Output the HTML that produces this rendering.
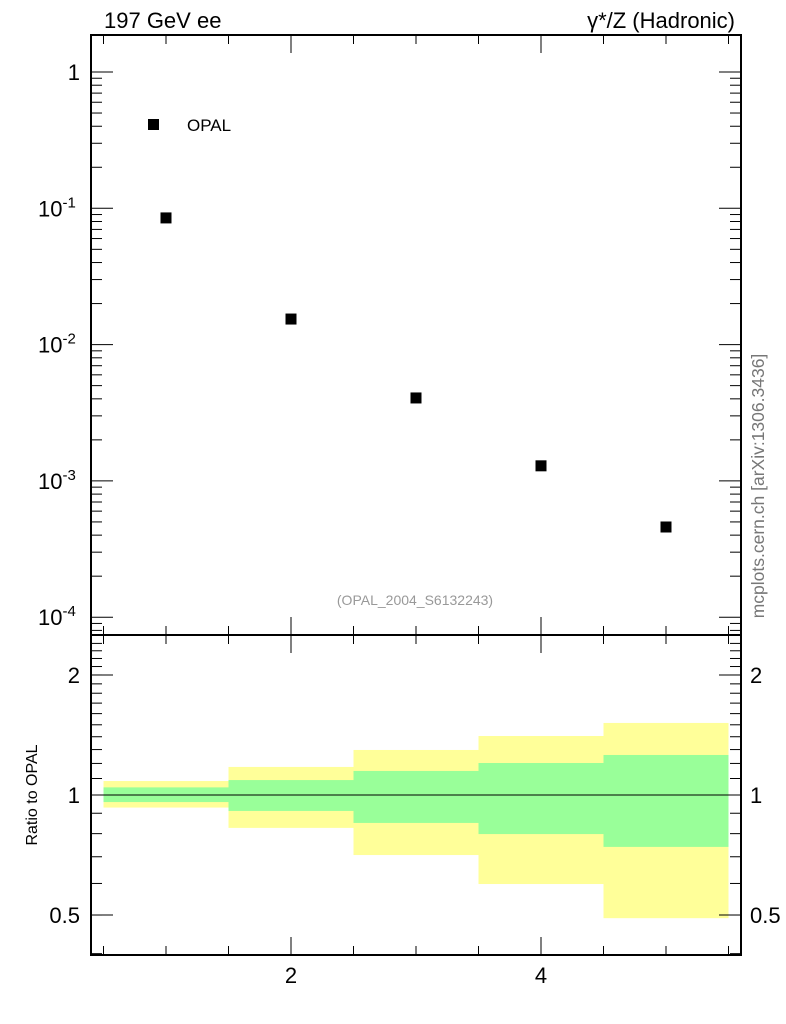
<!DOCTYPE html>
<html><head><meta charset="utf-8"><style>body{margin:0;background:#fff}svg{display:block}text{font-family:"Liberation Sans",sans-serif}</style></head>
<body>
<svg id="c" width="786" height="1024" xmlns="http://www.w3.org/2000/svg"></svg>
<script>
const xs=[1,2,3,4,5];
const vals=[0.085,0.0154,0.00406,0.00129,0.000459];
const binLo=[0.5,1.5,2.5,3.5,4.5];
const binHi=[1.5,2.5,3.5,4.5,5.5];
const yelHi=[1.084,1.176,1.297,1.406,1.516];
const yelLo=[0.93,0.827,0.707,0.598,0.491];
const grnHi=[1.045,1.09,1.149,1.203,1.26];
const grnLo=[0.96,0.912,0.851,0.798,0.741];
const xTicks=[2,4];
const mainTicks=["1","10","10","10","10"];
const mainExp=["","-1","-2","-3","-4"];
const ratioTicks=[0.5,1,2];

const L=91,R=741,T=35,M=635,B=955;
const X=v=>166+(v-1)*125;
const Y=v=>72-Math.log10(v)*136.3;
const YR=v=>795-Math.log10(v)*398.7;
const s=document.getElementById('c');
function el(t,a,txt){const e=document.createElementNS('http://www.w3.org/2000/svg',t);for(const k in a)e.setAttribute(k,a[k]);if(txt!==undefined)e.textContent=txt;s.appendChild(e);return e;}
function ln(x1,y1,x2,y2,w){return el('line',{x1,y1,x2,y2,stroke:'#000','stroke-width':w||1});}

for(let i=0;i<binLo.length;i++){
 const y=el('rect',{x:X(binLo[i]),y:YR(yelHi[i]),width:X(binHi[i])-X(binLo[i]),height:YR(yelLo[i])-YR(yelHi[i]),fill:'#ffff99'});
 
 
 const g=el('rect',{x:X(binLo[i]),y:YR(grnHi[i]),width:X(binHi[i])-X(binLo[i]),height:YR(grnLo[i])-YR(grnHi[i]),fill:'#99ff99'});
 
 
}
ln(L,YR(1),R,YR(1),1);

el('rect',{x:L,y:T,width:R-L,height:M-T,fill:'none',stroke:'#000','stroke-width':2});
el('rect',{x:L,y:M,width:R-L,height:B-M,fill:'none',stroke:'#000','stroke-width':2});

for(let v=0.5;v<=5.51;v+=0.5){
 const major=Math.abs(v-Math.round(v))<1e-6 && Math.round(v)%2===0;
 const len=major?18:9;
 const x=X(v);
 ln(x,T,x,T+len);ln(x,M,x,M-len);ln(x,M,x,M+len);ln(x,B,x,B-len);
}
xTicks.forEach(v=>{const t=el('text',{x:X(v),y:983,'font-size':22,'text-anchor':'middle'},String(v));});

for(let d=-4;d<=0;d++){
 const y=Y(Math.pow(10,d));
 ln(L,y,L+22,y);ln(R,y,R-22,y);
 for(let m=2;m<=9;m++){const yy=Y(m*Math.pow(10,d));if(yy>T){ln(L,yy,L+11,yy);ln(R,yy,R-11,yy);}}
}
for(let m=1;m<=9;m++){const yy=Y(m*1e-5);if(yy<M){ln(L,yy,L+11,yy);ln(R,yy,R-11,yy);}}
mainTicks.forEach((t,i)=>{
 const y=Y(Math.pow(10,-i));
 const tx=el('text',{x:80,y:y+8,'font-size':22,'text-anchor':'end'});
 
 
 if(mainExp[i]){tx.innerHTML='10<tspan dy="-9" font-size="15">'+mainExp[i]+'</tspan>';tx.setAttribute('x',38);tx.setAttribute('text-anchor','start');}
 else tx.textContent=t;
});

for(let v=0.4;v<=2.5;v+=0.1){
 const y=YR(v);if(y<M||y>B)continue;
 ln(L,y,L+11,y);ln(R,y,R-11,y);
}
ratioTicks.forEach(v=>{const y=YR(v);ln(L,y,L+22,y);ln(R,y,R-22,y);
 const a=el('text',{x:80,y:y+8,'font-size':22,'text-anchor':'end'},String(v));
 const b=el('text',{x:750,y:y+8,'font-size':22},String(v));});

xs.forEach((x,i)=>{const r=el('rect',{x:X(x)-5.5,y:Y(vals[i])-5.5,width:11,height:11,fill:'#000'});});

el('rect',{x:148,y:119,width:11,height:11,fill:'#000',});
el('text',{x:187,y:131,'font-size':17,},'OPAL');
el('text',{x:104,y:28,'font-size':22,},'197 GeV ee');
el('text',{x:735,y:28,'font-size':22,'text-anchor':'end',},'γ*/Z (Hadronic)');
el('text',{x:415,y:605,'font-size':14,'fill':'#999','text-anchor':'middle',},'(OPAL_2004_S6132243)');
el('text',{x:0,y:0,'font-size':17.5,'fill':'#777','text-anchor':'middle','transform':'translate(764,486) rotate(-90)',},'mcplots.cern.ch [arXiv:1306.3436]');
el('text',{x:0,y:0,'font-size':16,'text-anchor':'middle','transform':'translate(37,795) rotate(-90)',},'Ratio to OPAL');
</script>
</body></html>
